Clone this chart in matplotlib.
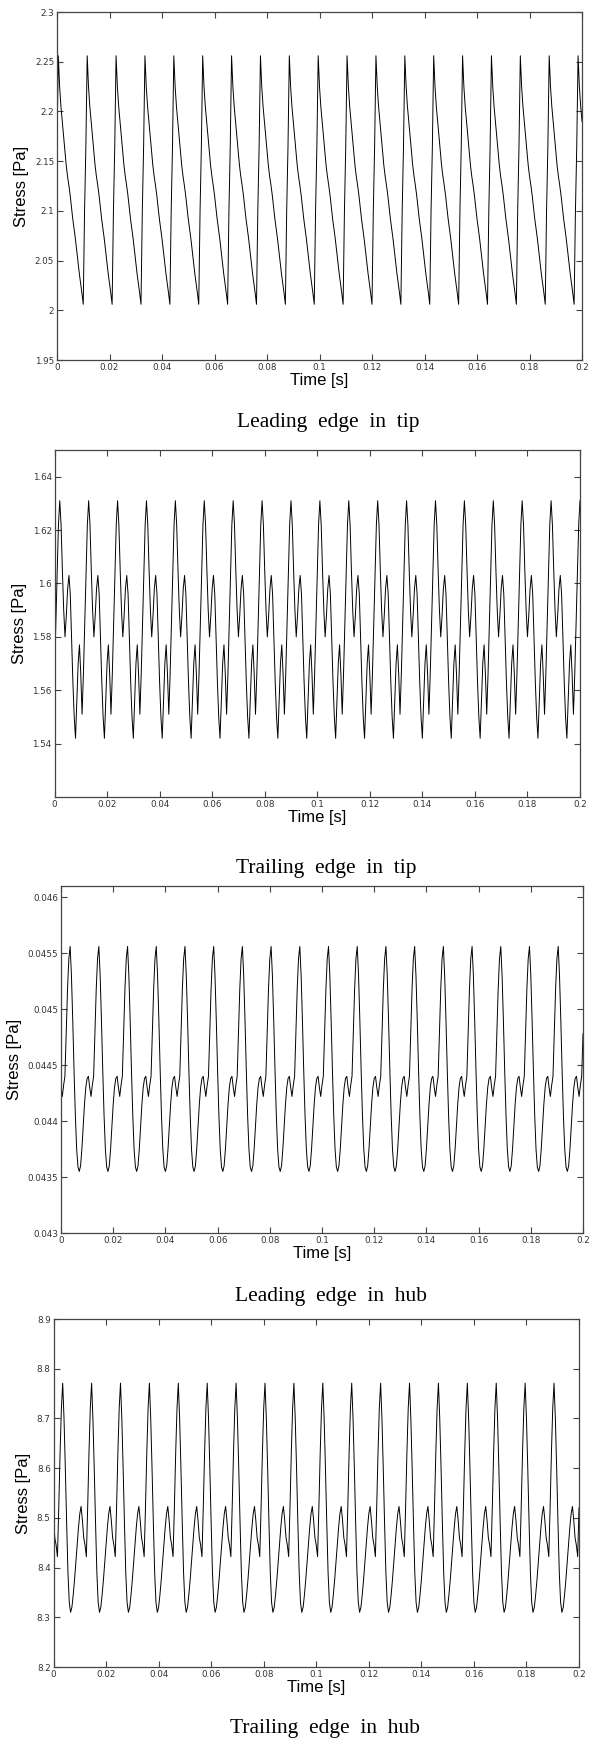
"""
Blade surface stress over time at four monitor points (tip / hub, leading / trailing edge).
"""

import numpy as np
import matplotlib
matplotlib.use('Agg')
import matplotlib.pyplot as plt

# ── sampling ──
DT = 0.0005                      # solver time step [s]
TIME = np.arange(0, 0.2 + DT / 2, DT)

# one blade-passing period (22 steps = 0.011 s), starting at the main peak
LE_TIP_CYCLE = [2.256, 2.225, 2.205, 2.190, 2.175, 2.160, 2.146, 2.135, 2.126, 2.116, 2.104,
                2.092, 2.082, 2.072, 2.060, 2.048, 2.037, 2.027, 2.017, 2.006, 2.100, 2.165]
TE_TIP_CYCLE = [1.631, 1.622, 1.605, 1.590, 1.580, 1.588, 1.598, 1.603, 1.596, 1.580, 1.563,
                1.550, 1.542, 1.556, 1.570, 1.577, 1.566, 1.551, 1.566, 1.585, 1.605, 1.622]
LE_HUB_CYCLE = [0.04556, 0.04530, 0.04490, 0.04445, 0.04405, 0.04375, 0.04359, 0.04355,
                0.04360, 0.04375, 0.04395, 0.04415, 0.04430, 0.04438, 0.04440, 0.04430,
                0.04422, 0.04432, 0.04440, 0.04478, 0.04518, 0.04545]
TE_HUB_CYCLE = [8.771, 8.700, 8.600, 8.490, 8.390, 8.330, 8.310, 8.320, 8.345, 8.375, 8.410,
                8.445, 8.480, 8.508, 8.523, 8.495, 8.460, 8.445, 8.422, 8.520, 8.630, 8.720]

# step index of the first main peak
PEAK_STEP = [1, 4, 7, 7]

CAPTIONS = ['Leading  edge  in  tip', 'Trailing  edge  in  tip',
            'Leading  edge  in  hub', 'Trailing  edge  in  hub']
YLIMS = [(1.95, 2.3), (1.52, 1.65), (0.043, 0.0461), (8.2, 8.9)]
YTICKS = [np.round(np.arange(1.95, 2.301, 0.05), 2),
          np.round(np.arange(1.54, 1.641, 0.02), 2),
          np.round(np.arange(0.043, 0.04601, 0.0005), 4),
          np.round(np.arange(8.2, 8.901, 0.1), 1)]
XTICKS = np.round(np.arange(0, 0.201, 0.02), 2)

# axes boxes in pixels: left, right, top, bottom
BOXES = [(57, 582, 12, 360), (54.5, 580, 450, 797),
         (61, 583, 886, 1233), (53.5, 579, 1319, 1667)]
CAPTION_Y = [423, 868, 1296, 1728]

W, H = 589, 1742


def periodic_series(cycle, peak_step):
    idx = (np.arange(len(TIME)) - peak_step) % len(cycle)
    return np.asarray(cycle)[idx]


def fmt_tick(v):
    s = f'{v:.4f}'.rstrip('0').rstrip('.')
    return s


def main():
    fig = plt.figure(figsize=(W / 100, H / 100), dpi=100)
    cycles = [LE_TIP_CYCLE, TE_TIP_CYCLE, LE_HUB_CYCLE, TE_HUB_CYCLE]

    for k, cyc in enumerate(cycles):
        l, r, t, b = BOXES[k]
        ax = fig.add_axes([l / W, 1 - b / H, (r - l) / W, (b - t) / H])
        y = periodic_series(cyc, PEAK_STEP[k])
        ax.plot(TIME, y, color='black', lw=0.7)

        ax.set_xlim(0, 0.2)
        ax.set_ylim(*YLIMS[k])
        ax.set_xticks(XTICKS)
        ax.set_xticklabels([fmt_tick(v) for v in XTICKS])
        ax.set_yticks(YTICKS[k])
        ax.set_yticklabels([fmt_tick(v) for v in YTICKS[k]])
        ax.tick_params(direction='in', length=4, width=0.8, top=True, right=True,
                       labelsize=6.3, labelcolor='#333333', color='#444444', pad=2)
        for sp in ax.spines.values():
            sp.set_color('#444444')
            sp.set_linewidth(0.9)

        ax.set_xlabel('Time [s]', fontsize=12, family='Liberation Sans', labelpad=1)
        ax.set_ylabel('Stress [Pa]', fontsize=12, family='Liberation Sans', labelpad=4)

        fig.text(0.5 * (l + r) / W + 0.015, 1 - CAPTION_Y[k] / H, CAPTIONS[k],
                 ha='center', va='center', fontsize=15.5, family='Liberation Serif')

    fig.savefig('out.png', dpi=100)
    plt.close(fig)


if __name__ == '__main__':
    main()
